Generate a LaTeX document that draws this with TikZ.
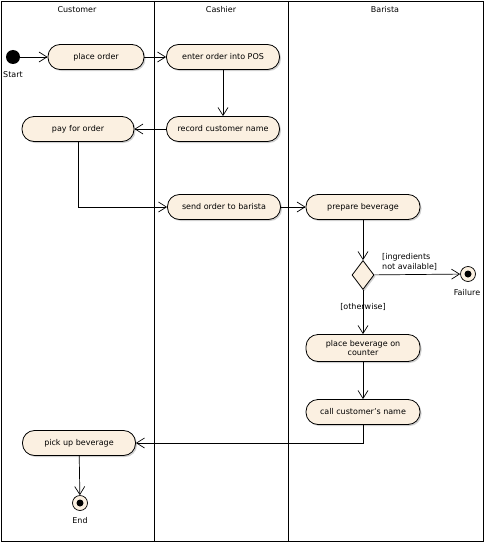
\documentclass[tikz,border=0pt]{standalone}
\usepackage{fontspec}
\setmainfont{DejaVu Sans}
\usetikzlibrary{arrows.meta,shapes.geometric,shadows}
\definecolor{cream}{HTML}{FBF0E1}
\tikzset{
  act/.style={draw, line width=0.8pt, fill=cream, rounded corners=12pt, minimum height=25pt, inner sep=1pt, align=center,
    font=\fontsize{8}{9}\selectfont,
    drop shadow={shadow xshift=1.5pt, shadow yshift=-1.5pt, fill=black!30, opacity=0.6}},
  lbl/.style={font=\fontsize{8}{9}\selectfont, inner sep=0pt},
  flow/.style={draw, line width=0.7pt, -{Straight Barb[length=8pt,width=10pt,line width=0.7pt]}},
  lane/.style={draw, line width=0.8pt},
}
\begin{document}
\begin{tikzpicture}[x=1pt,y=-1pt]
\useasboundingbox (0,0) rectangle (484,543);
\fill[white] (0,0) rectangle (484,543);
\draw[lane] (1,1) rectangle (483,541);
\draw[lane] (154,1) -- (154,541);
\draw[lane] (288,1) -- (288,541);
\node[lbl] (hcu) at (77,10) {Customer};
\node[lbl] (hca) at (221,10) {Cashier};
\node[lbl] (hba) at (385,10) {Barista};

\node[circle, fill=black, minimum size=14pt, inner sep=0pt] (start) at (13,57) {};
\node[lbl] (startl) at (13,75) {Start};

\node[act, minimum width=96pt] (po) at (96,57) {place order};
\node[act, minimum width=113pt] (eo) at (223,57) {enter order into POS};
\node[act, minimum width=113pt] (rc) at (223,129) {record customer name};
\node[act, minimum width=112pt] (pf) at (78,129) {pay for order};
\node[act, minimum width=113pt] (so) at (224,207) {send order to barista};
\node[act, minimum width=114pt] (pb) at (363,207) {prepare beverage};
\node[diamond, draw, line width=0.8pt, fill=cream, minimum width=22pt, minimum height=29pt, inner sep=0pt,
  drop shadow={shadow xshift=1.5pt, shadow yshift=-1.5pt, fill=black!30, opacity=0.6}] (dec) at (363,275) {};
\node[circle, draw, fill=cream, minimum size=15pt, inner sep=0pt, line width=0.7pt] (fail) at (468,274) {};
\fill (fail.center) circle (3.5pt);
\node[lbl] (faill) at (467,293) {Failure};
\node[lbl, anchor=west, align=left, font=\fontsize{8}{10.5}\selectfont] (ina) at (382,262) {[ingredients\\not available]};
\node[lbl] (oth) at (363,307) {[otherwise]};
\node[act, minimum width=114pt, minimum height=27pt, font=\fontsize{8}{9.5}\selectfont] (pbc) at (363,348) {place beverage on\\counter};
\node[act, minimum width=114pt] (cc) at (363,412) {call customer's name};
\node[act, minimum width=113pt] (pu) at (79,443) {pick up beverage};
\node[circle, draw, fill=cream, minimum size=15pt, inner sep=0pt, line width=0.7pt] (end) at (80,503) {};
\fill (end.center) circle (3.5pt);
\node[lbl] (endl) at (80,521) {End};

\draw[flow] (start) -- (po);
\draw[flow] (po) -- (eo);
\draw[flow] (eo) -- (rc);
\draw[flow] (rc) -- (pf);
\draw[flow] (pf.south) |- (so.west);
\draw[flow] (so) -- (pb);
\draw[flow] (pb) -- (dec);
\draw[flow] (dec) -- (fail);
\draw[flow] (dec) -- (pbc);
\draw[flow] (pbc) -- (cc);
\draw[flow] (cc.south) |- (pu.east);
\draw[flow] (pu) -- (end);
\end{tikzpicture}
\end{document}
